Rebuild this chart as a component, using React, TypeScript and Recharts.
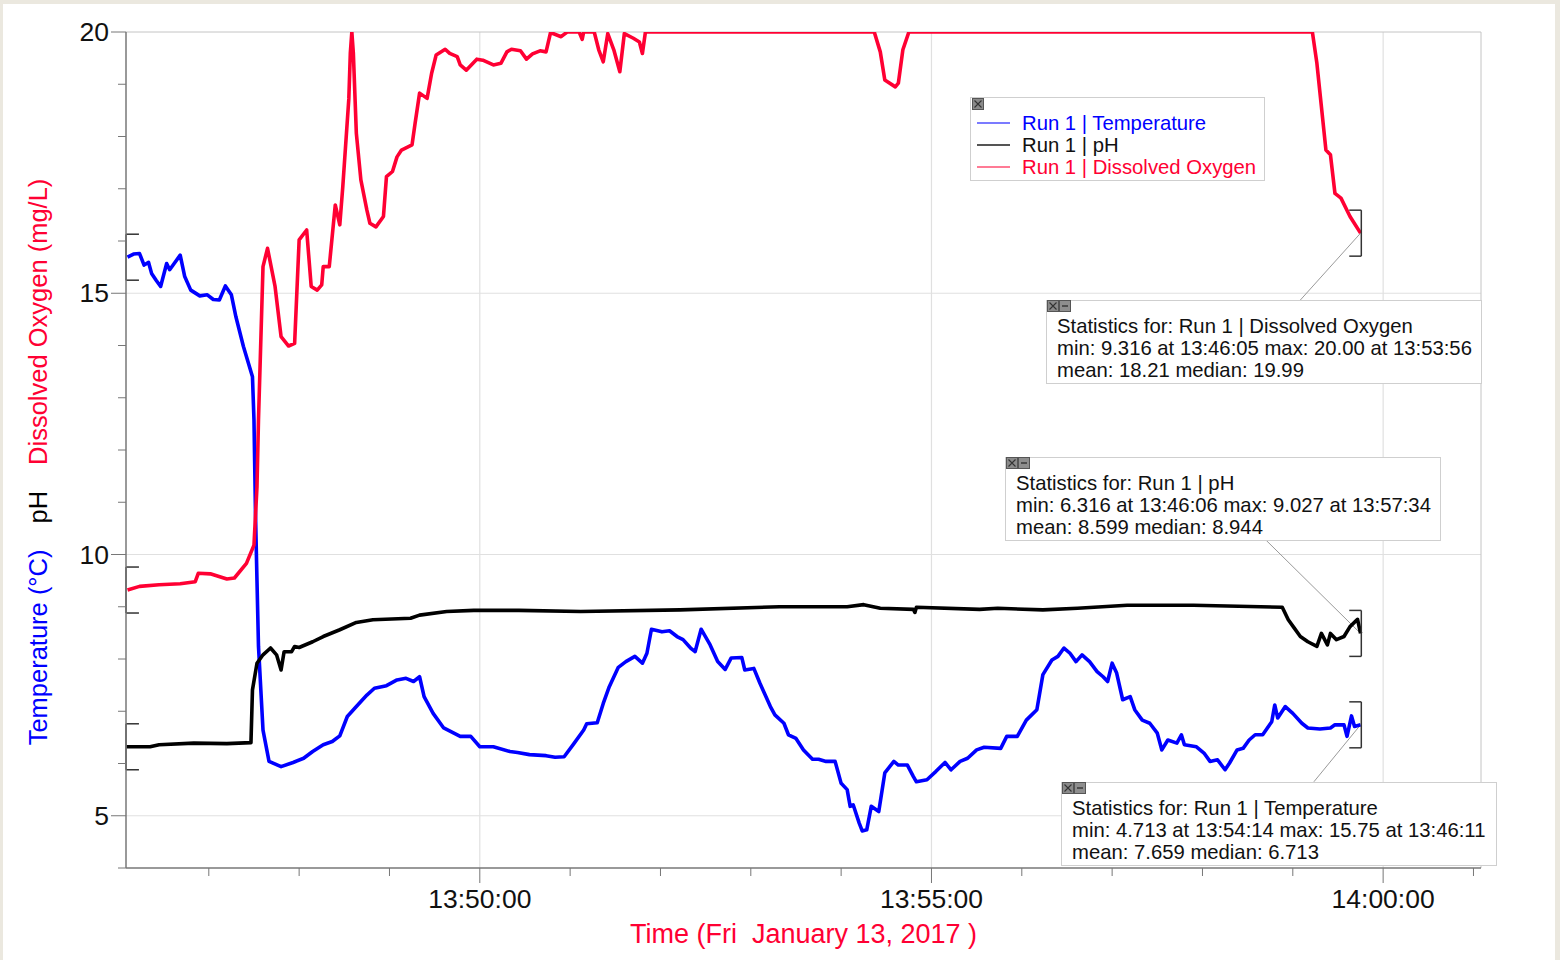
import React from "react";
import { LineChart, Line, XAxis, YAxis, ReferenceLine, Legend } from "recharts";

// time is seconds after 13:46:00, value in the unit of each sensor
const temperature: [number, number][] = [
  [6, 15.69], [10, 15.75], [14, 15.76], [17, 15.54], [20, 15.59], [22, 15.38], [25, 15.25], [28, 15.13],
  [32, 15.57], [34, 15.45], [37, 15.57], [41, 15.73], [44, 15.32], [48, 15.06], [54, 14.95], [59, 14.97],
  [63, 14.88], [67, 14.87], [71, 15.14], [75, 14.97], [78, 14.55], [83, 13.98], [89, 13.4], [90, 12.58],
  [91, 10.8], [92, 9.5], [93, 8.24], [96, 6.64], [100, 6.04], [108, 5.94], [116, 6.02], [123, 6.1],
  [129, 6.23], [136, 6.36], [142, 6.42], [147, 6.53], [152, 6.9], [158, 7.09], [165, 7.31], [170, 7.44],
  [178, 7.49], [185, 7.6], [191, 7.63], [196, 7.57], [200, 7.66], [203, 7.28], [209, 6.96], [216, 6.68],
  [227, 6.52], [234, 6.52], [240, 6.32], [249, 6.32], [260, 6.23], [265, 6.21], [273, 6.17], [284, 6.15],
  [290, 6.12], [296, 6.13], [302, 6.36], [309, 6.64], [311, 6.76], [318, 6.78], [322, 7.15], [326, 7.47],
  [332, 7.84], [337, 7.95], [343, 8.05], [348, 7.92], [351, 8.11], [354, 8.57], [361, 8.52], [366, 8.54],
  [371, 8.43], [375, 8.37], [380, 8.21], [383, 8.14], [387, 8.57], [393, 8.27], [398, 7.95], [403, 7.8],
  [407, 8.02], [414, 8.03], [416, 7.79], [422, 7.82], [426, 7.54], [433, 7.09], [436, 6.93], [442, 6.77],
  [445, 6.55], [450, 6.48], [455, 6.26], [461, 6.08], [465, 6.08], [470, 6.04], [476, 6.04], [480, 5.62],
  [484, 5.5], [486, 5.18], [488, 5.21], [492, 4.86], [494, 4.71], [497, 4.73], [500, 5.18], [505, 5.08],
  [509, 5.82], [515, 6.04], [518, 5.97], [524, 5.97], [528, 5.75], [530, 5.65], [537, 5.69], [543, 5.85],
  [549, 6.02], [553, 5.88], [559, 6.04], [564, 6.1], [570, 6.26], [575, 6.31], [586, 6.29], [590, 6.52],
  [597, 6.52], [603, 6.83], [610, 7.03], [614, 7.7], [620, 7.98], [624, 8.05], [628, 8.21], [632, 8.11],
  [636, 7.95], [640, 8.08], [645, 7.95], [650, 7.76], [654, 7.66], [657, 7.57], [660, 7.92], [663, 7.73],
  [667, 7.22], [672, 7.28], [675, 7.03], [680, 6.83], [685, 6.77], [690, 6.58], [693, 6.26], [697, 6.45],
  [703, 6.39], [706, 6.55], [708, 6.36], [716, 6.32], [721, 6.2], [725, 6.04], [730, 6.07], [735, 5.88],
  [738, 6.01], [743, 6.26], [747, 6.29], [751, 6.45], [755, 6.55], [760, 6.55], [766, 6.8], [768, 7.12],
  [770, 6.87], [775, 7.09], [780, 6.96], [786, 6.77], [790, 6.68], [798, 6.66], [805, 6.68], [808, 6.74],
  [814, 6.74], [816, 6.52], [819, 6.91], [821, 6.71], [825, 6.74],
];

const ph: [number, number][] = [
  [5, 6.32], [21, 6.32], [27, 6.36], [50, 6.39], [72, 6.38], [88, 6.4], [89, 7.41], [92, 7.92],
  [96, 8.08], [101, 8.21], [105, 8.08], [108, 7.79], [110, 8.14], [115, 8.14], [117, 8.24], [120, 8.22],
  [129, 8.33], [136, 8.43], [147, 8.56], [158, 8.7], [169, 8.75], [194, 8.78], [200, 8.84], [218, 8.91],
  [236, 8.93], [266, 8.93], [307, 8.91], [373, 8.94], [439, 9.0], [484, 9.0], [495, 9.04], [506, 8.97],
  [528, 8.95], [529, 8.89], [530, 8.99], [572, 8.95], [584, 8.97], [614, 8.94], [637, 8.97], [670, 9.03],
  [714, 9.03], [773, 8.99], [777, 8.75], [781, 8.59], [785, 8.43], [790, 8.33], [796, 8.24], [799, 8.49],
  [803, 8.27], [805, 8.49], [809, 8.37], [814, 8.43], [818, 8.62], [823, 8.76], [825, 8.49],
];

const dissolvedOxygen: [number, number][] = [
  [6, 9.32], [14, 9.39], [27, 9.42], [41, 9.44], [51, 9.48], [53, 9.64], [61, 9.63], [72, 9.53],
  [77, 9.55], [85, 9.83], [90, 10.18], [92, 11.3], [93, 12.58], [96, 15.51], [99, 15.86], [104, 15.13],
  [108, 14.17], [113, 13.99], [117, 14.04], [120, 16.02], [125, 16.21], [128, 15.13], [132, 15.06], [135, 15.16],
  [136, 15.51], [140, 15.51], [144, 16.69], [147, 16.31], [149, 17.04], [153, 18.72], [154, 19.6], [155, 20],
  [156, 19.6], [158, 18.06], [161, 17.17], [165, 16.59], [167, 16.34], [171, 16.27], [176, 16.47], [178, 17.23],
  [182, 17.33], [185, 17.61], [188, 17.74], [195, 17.84], [197, 18.25], [200, 18.83], [205, 18.73], [208, 19.21],
  [211, 19.56], [217, 19.67], [220, 19.59], [225, 19.53], [227, 19.37], [231, 19.27], [238, 19.48], [242, 19.46],
  [249, 19.37], [254, 19.4], [258, 19.62], [261, 19.67], [267, 19.64], [271, 19.48], [275, 19.58], [280, 19.64],
  [284, 19.62], [287, 19.99], [294, 19.91], [298, 20], [306, 20], [308, 19.86], [309, 20], [316, 20],
  [319, 19.66], [322, 19.43], [325, 19.97], [329, 19.66], [333, 19.24], [336, 19.97], [342, 19.88], [346, 19.81],
  [348, 19.59], [350, 20], [502, 20], [506, 19.62], [509, 19.08], [516, 18.95], [518, 19.02], [521, 19.66],
  [525, 20], [793, 20], [796, 19.4], [799, 18.57], [802, 17.74], [805, 17.65], [808, 16.91], [812, 16.82],
  [818, 16.47], [825, 16.15],
];

const seriesNames = ["Run 1 | Temperature", "Run 1 | pH", "Run 1 | Dissolved Oxygen"];
const legendSwatches = ["#7b7bff", "#555555", "#ff7b95"];

const minuteTicks = [60, 120, 180, 240, 300, 360, 420, 480, 540, 600, 660, 720, 780, 840, 900];
const labelledTimes = [240, 540, 840];
const valueTicks = [4, 5, 6, 7, 8, 9, 10, 11, 12, 13, 14, 15, 16, 17, 18, 19, 20];
const labelledValues = [5, 10, 15, 20];

const doStats = ["Statistics for: Run 1 | Dissolved Oxygen", "min: 9.316 at 13:46:05 max: 20.00 at 13:53:56", "mean: 18.21 median: 19.99"];
const phStats = ["Statistics for: Run 1 | pH", "min: 6.316 at 13:46:06 max: 9.027 at 13:57:34", "mean: 8.599 median: 8.944"];
const tempStats = ["Statistics for: Run 1 | Temperature", "min: 4.713 at 13:54:14 max: 15.75 at 13:46:11", "mean: 7.659 median: 6.713"];

const BLUE = "#0000ff";
const RED = "#ff0033";
const FONT = "'Liberation Sans', Arial, sans-serif";
const xDomain = [5, 905];

const toPoints = (rows: [number, number][]) => rows.map(([t, v]) => ({ t, v }));

const pad = (n: number) => String(n).padStart(2, "0");
const clock = (s: number) => {
  const total = 13 * 3600 + 46 * 60 + s;
  return `${Math.floor(total / 3600)}:${pad(Math.floor((total % 3600) / 60))}:${pad(total % 60)}`;
};

const XTick = (props: any) => {
  const { x, y, payload } = props;
  const major = labelledTimes.includes(payload.value);
  return (
    <g>
      <line x1={x} x2={x} y1={y} y2={y + (major ? 15 : 8)} stroke="#777" />
      {major && (
        <text x={x} y={y + 40} textAnchor="middle" fontSize={26.5} fontFamily={FONT} fill="#111">
          {clock(payload.value)}
        </text>
      )}
    </g>
  );
};

const YTick = (props: any) => {
  const { x, y, payload } = props;
  const major = labelledValues.includes(payload.value);
  return (
    <g>
      <line x1={x - (major ? 15 : 8)} x2={x} y1={y} y2={y} stroke="#777" />
      {major && (
        <text x={x - 17} y={y + 9} textAnchor="end" fontSize={26.5} fontFamily={FONT} fill="#111">
          {payload.value}
        </text>
      )}
    </g>
  );
};

const YLabel = (props: any) => {
  const vb = props.viewBox || { x: 16, y: 32, width: 110, height: 836 };
  const cx = vb.x + 31;
  const cy = vb.y + vb.height / 2 + 12;
  return (
    <text x={cx} y={cy} transform={`rotate(-90 ${cx} ${cy})`} textAnchor="middle" fontSize={25.5} fontFamily={FONT}>
      <tspan fill={BLUE}>Temperature (°C)</tspan>
      <tspan fill="#000" dx={26}>pH</tspan>
      <tspan fill={RED} dx={26}>Dissolved Oxygen (mg/L)</tspan>
    </text>
  );
};

const XLabel = (props: any) => {
  const vb = props.viewBox || { x: 126, y: 868, width: 1355, height: 60 };
  return (
    <text x={vb.x + vb.width / 2} y={vb.y + 75} textAnchor="middle" fontSize={27} fontFamily={FONT} fill={RED} style={{ whiteSpace: "pre" }}>
      {"Time (Fri  January 13, 2017 )"}
    </text>
  );
};

const CloseIcon = () => (
  <svg width={12} height={12} style={{ display: "block" }}>
    <rect x={0.5} y={0.5} width={11} height={11} fill="#8a8a8a" stroke="#555" />
    <path d="M2.5 2.5L9.5 9.5M9.5 2.5L2.5 9.5" stroke="#333" strokeWidth={1.1} />
  </svg>
);

const MinusIcon = () => (
  <svg width={12} height={12} style={{ display: "block" }}>
    <rect x={0.5} y={0.5} width={11} height={11} fill="#8e8e8e" stroke="#555" />
    <path d="M3 6H9" stroke="#333" strokeWidth={1.4} />
  </svg>
);

const LegendBox = (props: any) => {
  const items = props.payload || [];
  const ordered = seriesNames.map((n) => items.find((it: any) => it.value === n)).filter(Boolean);
  return (
    <div style={{ position: "relative", width: 293, height: 82, background: "#fff", border: "1px solid #cfcfcf", fontFamily: FONT }}>
      <div style={{ position: "absolute", left: 1, top: 0 }}>
        <CloseIcon />
      </div>
      <div style={{ position: "absolute", left: 6, top: 14 }}>
        {ordered.map((it: any, i: number) => (
          <div key={it.value} style={{ display: "flex", alignItems: "center", height: 22 }}>
            <div style={{ width: 33, height: 1.5, background: legendSwatches[i], marginRight: 12 }} />
            <span style={{ fontSize: 20.3, color: it.color === "#000000" ? "#111" : it.color, whiteSpace: "pre" }}>{it.value}</span>
          </div>
        ))}
      </div>
    </div>
  );
};

const StatsBox = ({ lines, left, top }: { lines: string[]; left: number; top: number }) => (
  <div
    style={{
      position: "absolute", left, top, width: 434, height: 82, background: "#fff",
      border: "1px solid #cfcfcf", fontFamily: FONT, fontSize: 20.3, color: "#111", boxSizing: "content-box",
    }}
  >
    <div style={{ position: "absolute", left: 0, top: -1, display: "flex" }}>
      <CloseIcon />
      <MinusIcon />
    </div>
    <div style={{ position: "absolute", left: 10, top: 14, lineHeight: "22px", whiteSpace: "pre" }}>
      {lines.map((l) => (
        <div key={l}>{l}</div>
      ))}
    </div>
  </div>
);

// bracket marks at the first and last sample of each series
const HALF = 0.44;
const brackets = (rows: [number, number][]) => {
  const first = rows[0][1];
  const [lastT, lastV] = rows[rows.length - 1];
  const l = xDomain[0];
  const r = lastT + 0.5;
  return [
    [{ x: l, y: first - HALF }, { x: l, y: first + HALF }],
    [{ x: l, y: first + HALF }, { x: l + 8.6, y: first + HALF }],
    [{ x: l, y: first - HALF }, { x: l + 8.6, y: first - HALF }],
    [{ x: r, y: lastV - HALF }, { x: r, y: lastV + HALF }],
    [{ x: r - 8, y: lastV + HALF }, { x: r, y: lastV + HALF }],
    [{ x: r - 8, y: lastV - HALF }, { x: r, y: lastV - HALF }],
  ];
};

const leaders: { rows: [number, number][]; from: { x: number; y: number } }[] = [
  { rows: dissolvedOxygen, from: { x: 785, y: 14.87 } },
  { rows: ph, from: { x: 762, y: 10.28 } },
  { rows: temperature, from: { x: 794, y: 5.65 } },
];

export default function App() {
  const tempData = toPoints(temperature);
  const phData = toPoints(ph);
  const doData = toPoints(dissolvedOxygen);
  const allBrackets = [...brackets(temperature), ...brackets(ph), ...brackets(dissolvedOxygen)];

  return (
    <div style={{ position: "absolute", left: 0, top: 0, width: 1560, height: 960, background: "#ebe8df", overflow: "hidden" }}>
      <div style={{ position: "absolute", left: 3, top: 4, width: 1552, height: 956, background: "#fff" }} />
      <div style={{ position: "absolute", left: 0, top: 0 }}>
        <LineChart width={1560} height={960} margin={{ top: 32, right: 79, bottom: 32, left: 16 }}>
          <XAxis
            dataKey="t"
            type="number"
            domain={xDomain}
            ticks={minuteTicks}
            interval={0}
            tick={<XTick />}
            tickLine={false}
            tickSize={0}
            tickMargin={0}
            height={60}
            allowDataOverflow
            axisLine={{ stroke: "#777", strokeWidth: 1.5 }}
            label={<XLabel />}
          />
          <YAxis
            type="number"
            domain={[4, 20]}
            ticks={valueTicks}
            interval={0}
            tick={<YTick />}
            tickLine={false}
            tickSize={0}
            tickMargin={0}
            width={110}
            allowDataOverflow
            axisLine={{ stroke: "#777", strokeWidth: 1.5 }}
            label={<YLabel />}
          />
          {labelledValues.slice(0, 3).map((v) => (
            <ReferenceLine key={`h${v}`} y={v} stroke="#e0e0e0" strokeWidth={1.2} />
          ))}
          {labelledTimes.map((t) => (
            <ReferenceLine key={`v${t}`} x={t} stroke="#e0e0e0" strokeWidth={1.2} />
          ))}
          <ReferenceLine y={20} stroke="#c4c4c4" />
          <ReferenceLine x={xDomain[1]} stroke="#c4c4c4" />
          {leaders.map((ld, i) => {
            const [lt, lv] = ld.rows[ld.rows.length - 1];
            return (
              <ReferenceLine key={`ld${i}`} segment={[ld.from, { x: lt, y: lv }]} stroke="#9a9a9a" strokeWidth={1} ifOverflow="visible" />
            );
          })}
          <Line data={tempData} dataKey="v" name={seriesNames[0]} type="linear" stroke={BLUE} strokeWidth={3.6} strokeLinejoin="round" dot={false} isAnimationActive={false} />
          <Line data={phData} dataKey="v" name={seriesNames[1]} type="linear" stroke="#000000" strokeWidth={3.6} strokeLinejoin="round" dot={false} isAnimationActive={false} />
          <Line data={doData} dataKey="v" name={seriesNames[2]} type="linear" stroke={RED} strokeWidth={3.6} strokeLinejoin="round" dot={false} isAnimationActive={false} />
          {allBrackets.map((seg, i) => (
            <ReferenceLine key={`b${i}`} segment={seg} stroke="#333" strokeWidth={1.5} ifOverflow="visible" />
          ))}
          <Legend
            layout="vertical"
            align="center"
            verticalAlign="middle"
            content={<LegendBox />}
            wrapperStyle={{ left: 970, top: 97, width: 295, height: 84 }}
          />
        </LineChart>
      </div>
      <StatsBox lines={doStats} left={1046} top={300} />
      <StatsBox lines={phStats} left={1005} top={457} />
      <StatsBox lines={tempStats} left={1061} top={782} />
    </div>
  );
}
